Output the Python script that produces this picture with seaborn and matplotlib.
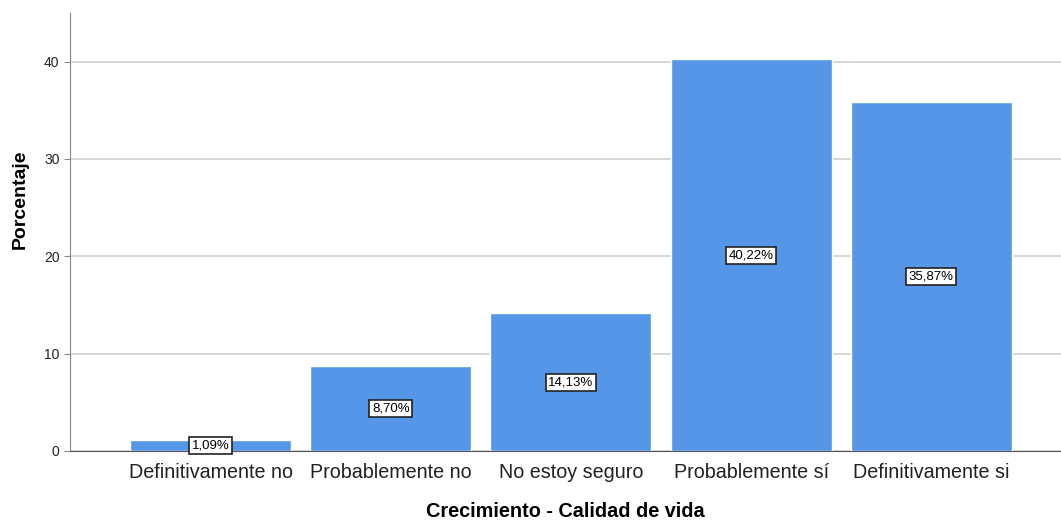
import matplotlib
matplotlib.use("Agg")
import matplotlib.pyplot as plt
import seaborn as sns
import pandas as pd

# --- datos ---
categorias = ["Definitivamente no", "Probablemente no", "No estoy seguro",
              "Probablemente sí", "Definitivamente si"]
porcentajes = [1.09, 8.70, 14.13, 40.22, 35.87]
etiquetas = ["1,09%", "8,70%", "14,13%", "40,22%", "35,87%"]

df = pd.DataFrame({"Categoria": categorias, "Porcentaje": porcentajes})

sns.set_style("white")
plt.rcParams["font.family"] = ["Liberation Sans", "DejaVu Sans"]

fig = plt.figure(figsize=(10.61, 5.23), dpi=100)
ax = fig.add_axes([0.066, 0.1377, 0.934, 0.8375])

sns.barplot(data=df, x="Categoria", y="Porcentaje", color="#5596E6",
            saturation=1, width=0.894, ax=ax, zorder=3)

# etiquetas de porcentaje en el centro de cada barra
for patch, txt in zip(ax.patches, etiquetas):
    cx = patch.get_x() + patch.get_width() / 2
    cy = patch.get_height() / 2
    ax.text(cx, cy, txt, ha="center", va="center", fontsize=9.5, zorder=5,
            color="black",
            bbox=dict(boxstyle="square,pad=0.2", facecolor="white",
                      edgecolor="#222222", linewidth=1.2))

ax.set_ylim(0, 45)
ax.set_xlim(-0.78, 4.72)
ax.set_yticks([0, 10, 20, 30, 40])
ax.yaxis.grid(True, color="#d4d4d4", linewidth=1.3, zorder=0)
ax.set_axisbelow(True)

for s in ["top", "right"]:
    ax.spines[s].set_visible(False)
ax.spines["left"].set_color("#888888")
ax.spines["bottom"].set_color("#555555")

ax.tick_params(axis="y", labelsize=10, length=4, color="#888888", left=True,
               labelcolor="#222222")
ax.tick_params(axis="x", labelsize=14.2, length=0, pad=9, labelcolor="#222222")

ax.set_xlabel("Crecimiento - Calidad de vida", fontsize=14.3, fontweight="bold",
              labelpad=14, color="black")
ax.set_ylabel("Porcentaje", fontsize=14, fontweight="bold", color="black")
ax.yaxis.set_label_coords(-0.042, 0.575)

fig.savefig("out.png", dpi=100)
